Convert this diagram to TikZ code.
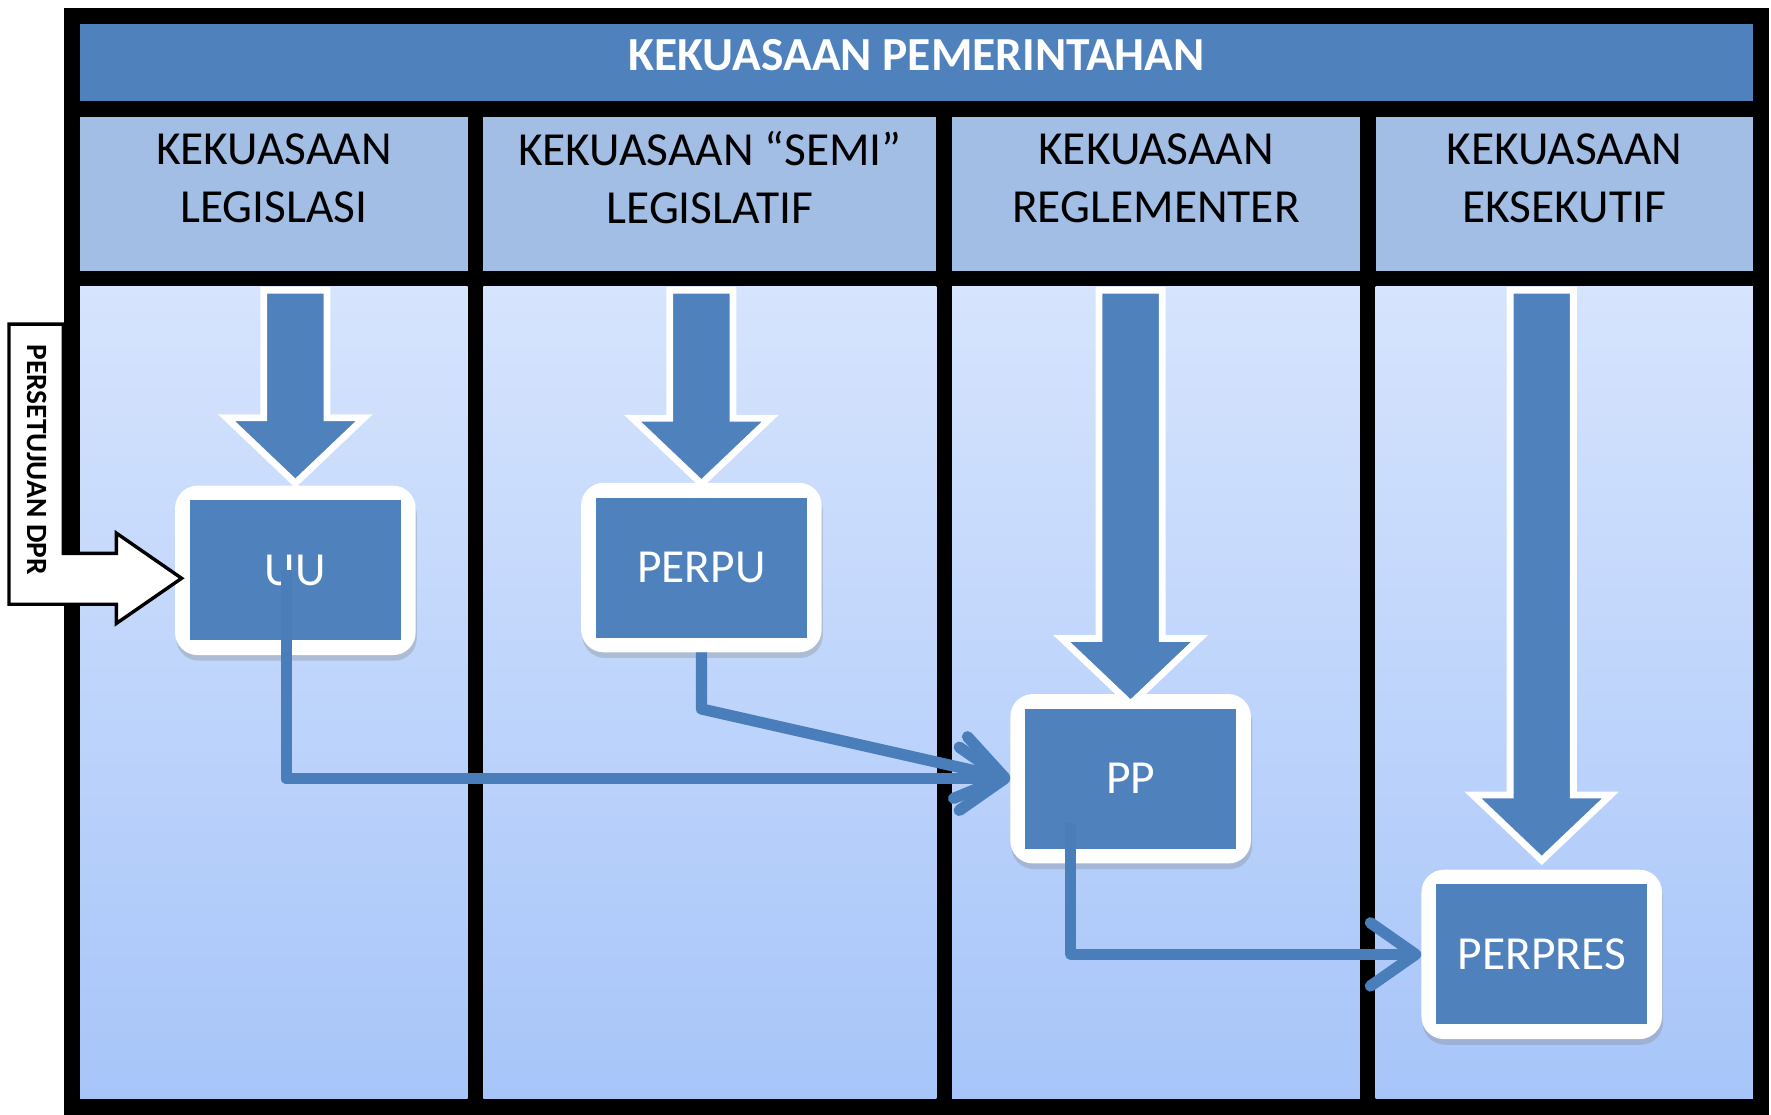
\documentclass[tikz,border=0pt]{standalone}
\usepackage{fontspec}
\setmainfont{Carlito}
\usetikzlibrary{calc,shadows,arrows.meta}
\definecolor{boxblue}{HTML}{4F81BD}
\definecolor{lineblue}{HTML}{4A7EBB}
\definecolor{headblue}{HTML}{A3BEE4}
\definecolor{bodylight}{HTML}{D6E4FD}
\definecolor{bodydark}{HTML}{A7C5F9}

\begin{document}
\begin{tikzpicture}
        [x=1pt,y=-1pt,
         box/.style={fill=white,rounded corners=20pt,
           minimum width=213pt,minimum height=150pt,text=white,
           font=\fontsize{42}{50}\selectfont,
           drop shadow={shadow xshift=1pt,shadow yshift=-5pt,opacity=.3},
           path picture={\fill[boxblue,sharp corners]
             ([shift={(13pt,-13pt)}]path picture bounding box.north west) rectangle
             ([shift={(-13pt,13pt)}]path picture bounding box.south east);}},
         bigarrow/.style={fill=boxblue,draw=white,line width=6pt,sharp corners},
         link/.style={draw=lineblue,line width=10pt,line join=round,
           -{Straight Barb[length=40pt,width=56pt,round]}},
         dprarrow/.style={fill=white,draw=black,line width=3pt},
         headtext/.style={align=center,font=\fontsize{42}{51}\selectfont}]
        \useasboundingbox (0,0) rectangle (1568,987);
        \coordinate (bodytop) at (0,257);

        % the frame
        \fill (57,7) rectangle (1566,987);
        \fill[boxblue] (71,21) rectangle (1552,89.5);
        \node[text=white,font=\bfseries\fontsize{42}{50}\selectfont] (title) at (811.5,49) {KEKUASAAN PEMERINTAHAN};
        \foreach \a/\b in {71/414,428/829,843/1204,1218/1552} {
            \fill[headblue] (\a,103.5) rectangle (\b,240);
            \shade[top color=bodylight,bottom color=bodydark] (\a,254) rectangle (\b,973);
        }
        \node[headtext] (legislasi) at (242.5,158) {KEKUASAAN\\LEGISLASI};
        \node[headtext] (semi) at (628.5,157) {KEKUASAAN “SEMI”\\LEGISLATIF};
        \node[headtext] (reglementer) at (1023.5,158) {KEKUASAAN\\REGLEMENTER};
        \node[headtext] (eksekutif) at (1385,158) {KEKUASAAN\\EKSEKUTIF};

        % the boxes
        \node[box] (uu) at (261.5,505) {UU};
        \node[box] (perpu) at (621,502.5) {PERPU};
        \node[box] (pp) at (1001,689.5) {PP};
        \node[box] (perpres) at (1365,845) {PERPRES};

        % big arrows from the top
        \foreach \n/\d in {uu/2,perpu/-1,pp/-9,perpres/8}
            \draw[bigarrow] ([yshift=\d pt]\n.north) -- ++(-61,-58) -- ++(33,0)
                -- ($(\n.north |- bodytop)+(-28,0)$) -- ++(56,0)
                -- ($([yshift=\d pt]\n.north)+(28,-58)$) -- ++(33,0) -- cycle;

        % links between the boxes
        \draw[link] ([xshift=-8pt]uu.center) |- (pp.west);
        \draw[link] (perpu.south) -- ++(0,50) -- (pp.west);
        \draw[link] ([shift={(-53,39)}]pp.center) |- (perpres.west);

        % persetujuan dpr
        \draw[dprarrow] (8,287) -- (56,287) -- (56,490) -- (103,490) -- (103,472)
            -- ([shift={(6,7)}]uu.west) -- (103,552) -- (103,535) -- (8,535) -- cycle;
        \node[rotate=-90,font=\bfseries\fontsize{26}{30}\selectfont] (dpr) at (33,407) {PERSETUJUAN DPR};
    \end{tikzpicture}
\end{document}
